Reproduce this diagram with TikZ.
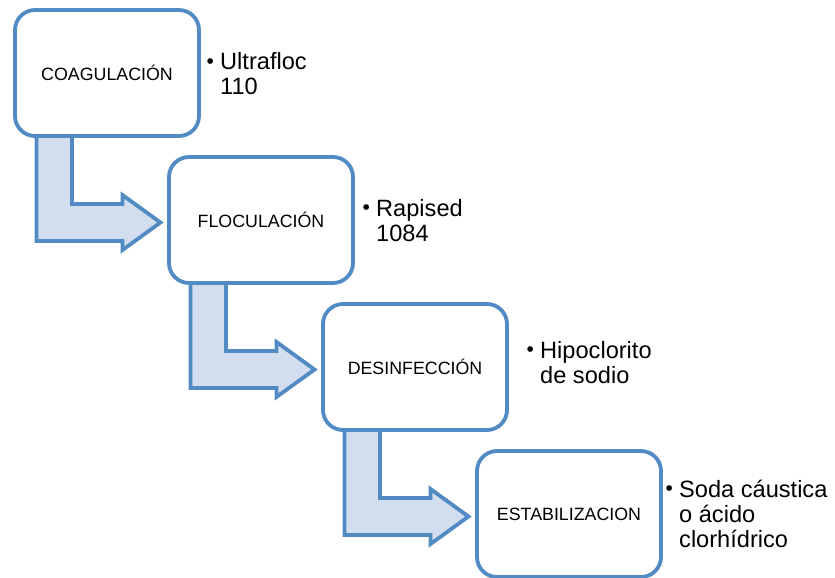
\documentclass[tikz,border=0pt]{standalone}
\usepackage{fontspec}
\setmainfont{Liberation Sans}
\usetikzlibrary{positioning}

\definecolor{boxline}{RGB}{82,139,196}
\definecolor{arrowfill}{RGB}{210,222,239}
\newcommand\bul{\makebox[0pt][c]{\fontsize{21}{21}\selectfont\raisebox{1.2pt}{\textbullet}}}

\begin{document}
\begin{tikzpicture}[x=1pt,y=1pt,node distance=147pt and 154pt,on grid]
  \tikzstyle{stage}=[draw=boxline,fill=white,line width=3.8pt,rounded corners=20pt,
    minimum width=184pt,minimum height=126pt,inner sep=0pt,outer sep=0pt,
    font=\fontsize{17.8}{21}\selectfont]
  \tikzstyle{bentarrow}=[draw=boxline,fill=arrowfill,line width=3.8pt,line join=miter]
  \tikzstyle{note}=[anchor=base west,inner sep=0pt,font=\fontsize{23.6}{25}\selectfont]
  \useasboundingbox (0,0) rectangle (835,-578);

  \node [stage] (C) at (107,-73) {COAGULACIÓN};
  \node [stage] (F) [below right=of C] {FLOCULACIÓN};
  \node [stage] (D) [below right=of F] {DESINFECCIÓN};
  \node [stage] (E) [below right=of D] {ESTABILIZACION};

  % bent arrows from each stage into the next one
  \draw [bentarrow,shift={(C.north west)}] (21.5,-126) -- (21.5,-231) -- (107.5,-231)
    -- (107.5,-240) -- (145.5,-212.5) -- (107.5,-185) -- (107.5,-194) -- (57,-194)
    -- (57,-126) -- cycle;
  \draw [bentarrow,shift={(F.north west)}] (21.5,-126) -- (21.5,-231) -- (107.5,-231)
    -- (107.5,-240) -- (145.5,-212.5) -- (107.5,-185) -- (107.5,-194) -- (57,-194)
    -- (57,-126) -- cycle;
  \draw [bentarrow,shift={(D.north west)}] (21.5,-126) -- (21.5,-231) -- (107.5,-231)
    -- (107.5,-240) -- (145.5,-212.5) -- (107.5,-185) -- (107.5,-194) -- (57,-194)
    -- (57,-126) -- cycle;

  \node [note] (nC) at (220,-70) {\begin{tabular}[t]{@{}l@{}}\llap{\bul\hspace{10pt}}Ultrafloc\\110\end{tabular}};
  \node [note] (nF) at (376,-216) {\begin{tabular}[t]{@{}l@{}}\llap{\bul\hspace{10pt}}Rapised\\1084\end{tabular}};
  \node [note] (nD) at (540,-358) {\begin{tabular}[t]{@{}l@{}}\llap{\bul\hspace{10pt}}Hipoclorito\\de sodio\end{tabular}};
  \node [note] (nE) at (679,-497) {\begin{tabular}[t]{@{}l@{}}\llap{\bul\hspace{10pt}}Soda cáustica\\o ácido\\clorhídrico\end{tabular}};
\end{tikzpicture}
\end{document}
